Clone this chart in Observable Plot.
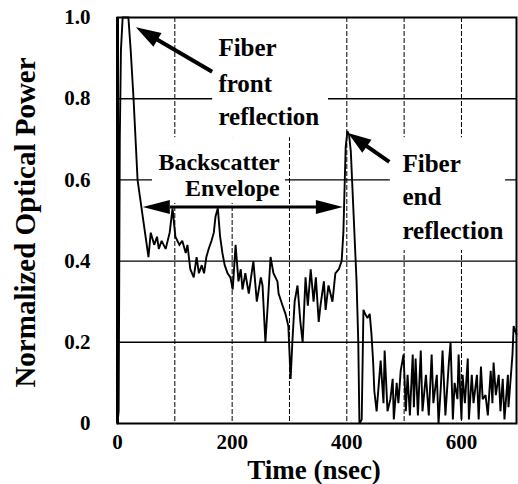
<!DOCTYPE html>
<html>
<head>
<meta charset="utf-8">
<script src="https://cdn.jsdelivr.net/npm/d3@7"></script>
<script src="https://cdn.jsdelivr.net/npm/@observablehq/plot@0.6"></script>
<style>
  html, body { margin: 0; padding: 0; background: white; }
  #chart svg { display: block; }
</style>
</head>
<body>
<div id="chart"></div>
<script>
// ---- Data ----
const timeNs = [0,2,3,4,6,9,14,19,23,28,35,42,47,54,58,64,69,72,77,84,91,96,101,108,113,119,122,127,133,138,142,147,151,155,159,164,168,171,175,179,183,187,192,197,201,206,211,215,218,223,229,232,237,243,250,253,258,262,267,272,279,281,288,293,298,302,305,309,314,319,323,328,332,337,342,346,351,354,360,363,368,375,380,386,391,394,398,401,404,407,412,417,420,422,426,429,432,436,440,443,446,448,452,459,464,466,471,476,480,482,487,490,494,499,503,506,510,515,517,520,524,529,532,538,543,548,551,557,560,564,567,572,578,581,585,588,593,595,600,602,606,611,613,618,621,627,630,634,637,642,646,651,654,656,660,665,668,672,675,681,682,689,691,696];
const power = [0,0.03,0.35,0.7,0.92,1.0,1.0,1.0,0.92,0.8,0.6,0.53,0.48,0.41,0.47,0.44,0.46,0.43,0.45,0.43,0.47,0.53,0.46,0.44,0.45,0.42,0.44,0.38,0.36,0.41,0.37,0.39,0.37,0.41,0.43,0.45,0.47,0.51,0.53,0.46,0.42,0.39,0.37,0.36,0.33,0.44,0.35,0.38,0.33,0.37,0.32,0.35,0.40,0.30,0.36,0.34,0.20,0.29,0.41,0.37,0.35,0.32,0.29,0.27,0.24,0.11,0.20,0.30,0.34,0.25,0.20,0.36,0.29,0.38,0.30,0.36,0.25,0.29,0.35,0.28,0.34,0.30,0.37,0.38,0.40,0.47,0.68,0.72,0.71,0.67,0.51,0.35,0.20,0.0,0.01,0.28,0.27,0.26,0.27,0.22,0.15,0.08,0.03,0.155,0.05,0.18,0.03,0.06,0.11,0.01,0.10,0.05,0.13,0.17,0.03,0.12,0.02,0.17,0.04,0.16,0.02,0.18,0.03,0.12,0.02,0.17,0.05,0.12,0.0,0.09,0.18,0.02,0.15,0.20,0.01,0.10,0.06,0.17,0.01,0.12,0.05,0.16,0.01,0.12,0.05,0.12,0.01,0.14,0.06,0.07,0.02,0.13,0.05,0.15,0.07,0.12,0.03,0.11,0.01,0.12,0.04,0.17,0.24,0.22];

const xTicks = [0, 200, 400, 600];
const xGrid = [100, 200, 300, 400, 500, 600];
const yTicks = [0, 0.2, 0.4, 0.6, 0.8, 1.0];
const yTickLabels = ["0", "0.2", "0.4", "0.6", "0.8", "1.0"];
const yGrid = [0.2, 0.4, 0.6, 0.8];

const xLabel = "Time (nsec)";
const yLabel = "Normalized Optical Power";

// annotation texts (data coordinates)
const notesLeftAligned = [
  {t: 176, v: 0.924, s: "Fiber"},
  {t: 176, v: 0.837, s: "front"},
  {t: 176, v: 0.754, s: "reflection"},
  {t: 497, v: 0.640, s: "Fiber"},
  {t: 497, v: 0.557, s: "end"},
  {t: 497, v: 0.475, s: "reflection"}
];
const notesRightAligned = [
  {t: 283, v: 0.643, s: "Backscatter"},
  {t: 283, v: 0.580, s: "Envelope"}
];
// white boxes behind annotation text (hide grid lines)
const boxes = [
  {t1: 166, t2: 368, v1: 0.704, v2: 1.0},
  {t1: 61, t2: 293, v1: 0.542, v2: 0.704},
  {t1: 476, t2: 677, v1: 0.426, v2: 0.704}
];
// arrows: tail -> tip
const arrows = [
  {t1: 166, v1: 0.865, t2: 33, v2: 0.975, both: false, w: 4, L: 25, hw: 8},
  {t1: 45, v1: 0.532, t2: 394, v2: 0.532, both: true, w: 3, L: 27, hw: 7},
  {t1: 475, v1: 0.643, t2: 403, v2: 0.714, both: false, w: 4, L: 23, hw: 8}
];

const trace = timeNs.map((t, i) => ({t, v: power[i]}));

const W = 518, H = 484;
const mL = 117, mR = 2, mT = 17, mB = 61;
const xDomain = [0, 696];

function arrowMark(index, scales) {
  const xs = (scales && scales.x) || d3.scaleLinear(xDomain, [mL, W - mR]);
  const ys = (scales && scales.y) || d3.scaleLinear([0, 1], [H - mB, mT]);
  const g = d3.create("svg:g");
  function head(tx, ty, ux, uy, L, hw) {
    const bx = tx - ux * L, by = ty - uy * L;
    const nx = -uy, ny = ux;
    g.append("polygon")
      .attr("points", `${tx},${ty} ${bx + nx * hw},${by + ny * hw} ${bx - nx * hw},${by - ny * hw}`)
      .attr("fill", "black");
    return [bx, by];
  }
  for (const a of arrows) {
    let x1 = xs(a.t1), y1 = ys(a.v1), x2 = xs(a.t2), y2 = ys(a.v2);
    const len = Math.hypot(x2 - x1, y2 - y1);
    const ux = (x2 - x1) / len, uy = (y2 - y1) / len;
    const [ex, ey] = head(x2, y2, ux, uy, a.L, a.hw);
    let sx = x1, sy = y1;
    if (a.both) [sx, sy] = head(x1, y1, -ux, -uy, a.L, a.hw);
    g.append("line")
      .attr("x1", sx).attr("y1", sy).attr("x2", ex + ux * 2).attr("y2", ey + uy * 2)
      .attr("stroke", "black").attr("stroke-width", a.w);
  }
  return g.node();
}

const chart = Plot.plot({
  width: W,
  height: H,
  marginLeft: mL,
  marginRight: mR,
  marginTop: mT,
  marginBottom: mB,
  style: {fontFamily: "'Liberation Serif', 'Times New Roman', serif", fontWeight: "bold", background: "white", color: "black"},
  x: {domain: xDomain},
  y: {domain: [0, 1]},
  marks: [
    Plot.ruleY(yGrid, {stroke: "black", strokeWidth: 1.4}),
    Plot.ruleX(xGrid, {stroke: "black", strokeWidth: 1, strokeDasharray: "5,2"}),
    Plot.rect(boxes, {x1: "t1", x2: "t2", y1: "v1", y2: "v2", fill: "white"}),
    Plot.line(trace, {x: "t", y: "v", stroke: "black", strokeWidth: 1.9, strokeLinejoin: "miter", strokeMiterlimit: 2}),
    Plot.frame({stroke: "black", strokeWidth: 2}),
    Plot.ruleX([0], {stroke: "black", strokeWidth: 3}),
    Plot.axisX({ticks: xTicks, tickSize: 0, tickPadding: 11, fontSize: 21, label: null, tickFormat: d => String(d)}),
    Plot.axisY({ticks: yTicks, tickSize: 0, tickPadding: 27, fontSize: 21, label: null, tickFormat: d => yTickLabels[yTicks.indexOf(d)]}),
    Plot.text([xLabel], {frameAnchor: "bottom", dy: 47, dx: -3, fontSize: 27, fontWeight: "bold", textAnchor: "middle", lineAnchor: "middle", fill: "black"}),
    Plot.text([yLabel], {frameAnchor: "left", dx: -92, dy: 2, rotate: -90, fontSize: 29, fontWeight: "bold", textAnchor: "middle", lineAnchor: "middle", fill: "black"}),
    Plot.text(notesLeftAligned, {x: "t", y: "v", text: "s", textAnchor: "start", fontSize: 25, fontWeight: "bold", lineAnchor: "middle", fill: "black"}),
    Plot.text(notesRightAligned, {x: "t", y: "v", text: "s", textAnchor: "end", fontSize: 24, fontWeight: "bold", lineAnchor: "middle", fill: "black"}),
    arrowMark
  ]
});

document.getElementById("chart").appendChild(chart);
</script>
</body>
</html>
